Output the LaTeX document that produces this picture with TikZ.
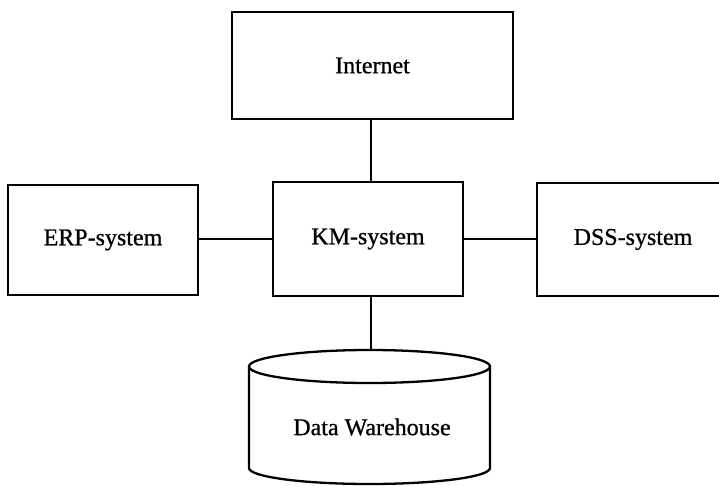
\documentclass[tikz,border=0pt]{standalone}
\usepackage{fontspec}
\setmainfont[FakeBold=0.8]{Liberation Serif}
\begin{document}
\begin{tikzpicture}[x=1pt,y=1pt,
  ln/.style={line width=2.3pt},
  conn/.style={line width=2pt},
  sysbox/.style={draw, line width=2.5pt, rectangle, inner sep=0pt, font=\fontsize{24}{28}\selectfont},
  lbl/.style={inner sep=0pt, font=\fontsize{24}{28}\selectfont}]
\useasboundingbox (0,0) rectangle (719,485);
\node[sysbox, minimum width=281pt, minimum height=107pt] (inet) at (372.5,419.5) {Internet};
\node[sysbox, minimum width=190pt, minimum height=110pt] (erp) at (103,245) {ERP-system};
\node[sysbox, minimum width=190pt, minimum height=114pt] (km) at (368,246) {KM-system};
\node[sysbox, minimum width=192pt, minimum height=113pt] (dss) at (633,245.5) {DSS-system};
% data warehouse cylinder
\draw[ln] (249,118.5) -- (249,17) arc[start angle=180, end angle=360, x radius=120.5pt, y radius=16pt] -- (490,118.5);
\draw[ln] (369.5,118.5) ellipse [x radius=120.5pt, y radius=16.5pt];
\node[lbl] (dw) at (372,58) {Data Warehouse};
\coordinate (dwtop) at (371,135);
% connectors
\draw[conn] (inet.south -| 371,0) -- (km.north -| 371,0);
\draw[conn] (erp.east |- km.west) -- (km.west);
\draw[conn] (km.east) -- (dss.west |- km.east);
\draw[conn] (km.south -| dwtop) -- (dwtop);
\end{tikzpicture}
\end{document}
